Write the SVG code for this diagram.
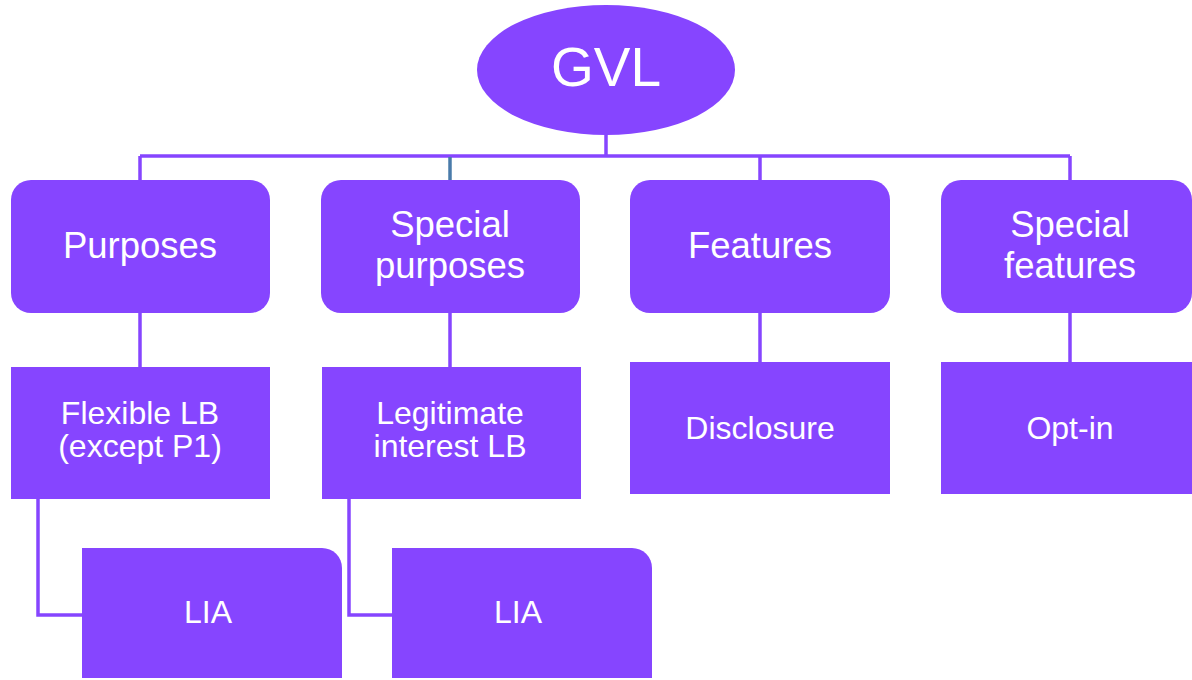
<svg xmlns="http://www.w3.org/2000/svg" width="1192" height="680" viewBox="0 0 1192 680">
<style>
.n{fill:#8645FF}
.t{fill:#fff;font-family:"Liberation Sans",Arial,sans-serif;text-anchor:middle}
.c{fill:none;stroke:#8645FF;stroke-width:3.5}
.b{fill:none;stroke:#4A7BAA;stroke-width:3.5}
</style>
<rect width="1192" height="680" fill="#fff"/>
<g id="connectors">
<path class="c" d="M606 135V156M140 156H1070M140 156V181M760 156V181M1070 156V181"/>
<path class="b" d="M450 157V181"/>
<path class="c" d="M140 313V367M450 313V367M760 313V362M1070 313V362"/>
<path class="c" d="M38 499V615H82M349 499V615H392"/>
</g>
<g id="gvl">
<ellipse class="n" cx="606" cy="70" rx="129" ry="65"/>
<text class="t" x="606" y="86" font-size="55">GVL</text>
</g>
<g id="purposes">
<rect class="n" x="11" y="180" width="259" height="133" rx="20"/>
<text class="t" x="140" y="258" font-size="36.5">Purposes</text>
</g>
<g id="special-purposes">
<rect class="n" x="321" y="180" width="259" height="133" rx="20"/>
<text class="t" x="450" y="237" font-size="36.5">Special</text>
<text class="t" x="450" y="278" font-size="36.5">purposes</text>
</g>
<g id="features">
<rect class="n" x="630" y="180" width="260" height="133" rx="20"/>
<text class="t" x="760" y="258" font-size="36.5">Features</text>
</g>
<g id="special-features">
<rect class="n" x="941" y="180" width="251" height="133" rx="20"/>
<text class="t" x="1070" y="237" font-size="36.5">Special</text>
<text class="t" x="1070" y="278" font-size="36.5">features</text>
</g>
<g id="flexible-lb">
<rect class="n" x="11" y="367" width="259" height="132"/>
<text class="t" x="140" y="424" font-size="32">Flexible LB</text>
<text class="t" x="140" y="457" font-size="32">(except P1)</text>
</g>
<g id="legitimate-interest-lb">
<rect class="n" x="322" y="367" width="259" height="132"/>
<text class="t" x="450" y="424" font-size="32">Legitimate</text>
<text class="t" x="450" y="457" font-size="32">interest LB</text>
</g>
<g id="disclosure">
<rect class="n" x="630" y="362" width="260" height="132"/>
<text class="t" x="760" y="439" font-size="32">Disclosure</text>
</g>
<g id="opt-in">
<rect class="n" x="941" y="362" width="251" height="132"/>
<text class="t" x="1070" y="439" font-size="32">Opt-in</text>
</g>
<g id="lia-1">
<path class="n" d="M82 548H322A20 20 0 0 1 342 568V678H82Z"/>
<text class="t" x="208" y="623" font-size="32">LIA</text>
</g>
<g id="lia-2">
<path class="n" d="M392 548H632A20 20 0 0 1 652 568V678H392Z"/>
<text class="t" x="518" y="623" font-size="32">LIA</text>
</g>
</svg>
